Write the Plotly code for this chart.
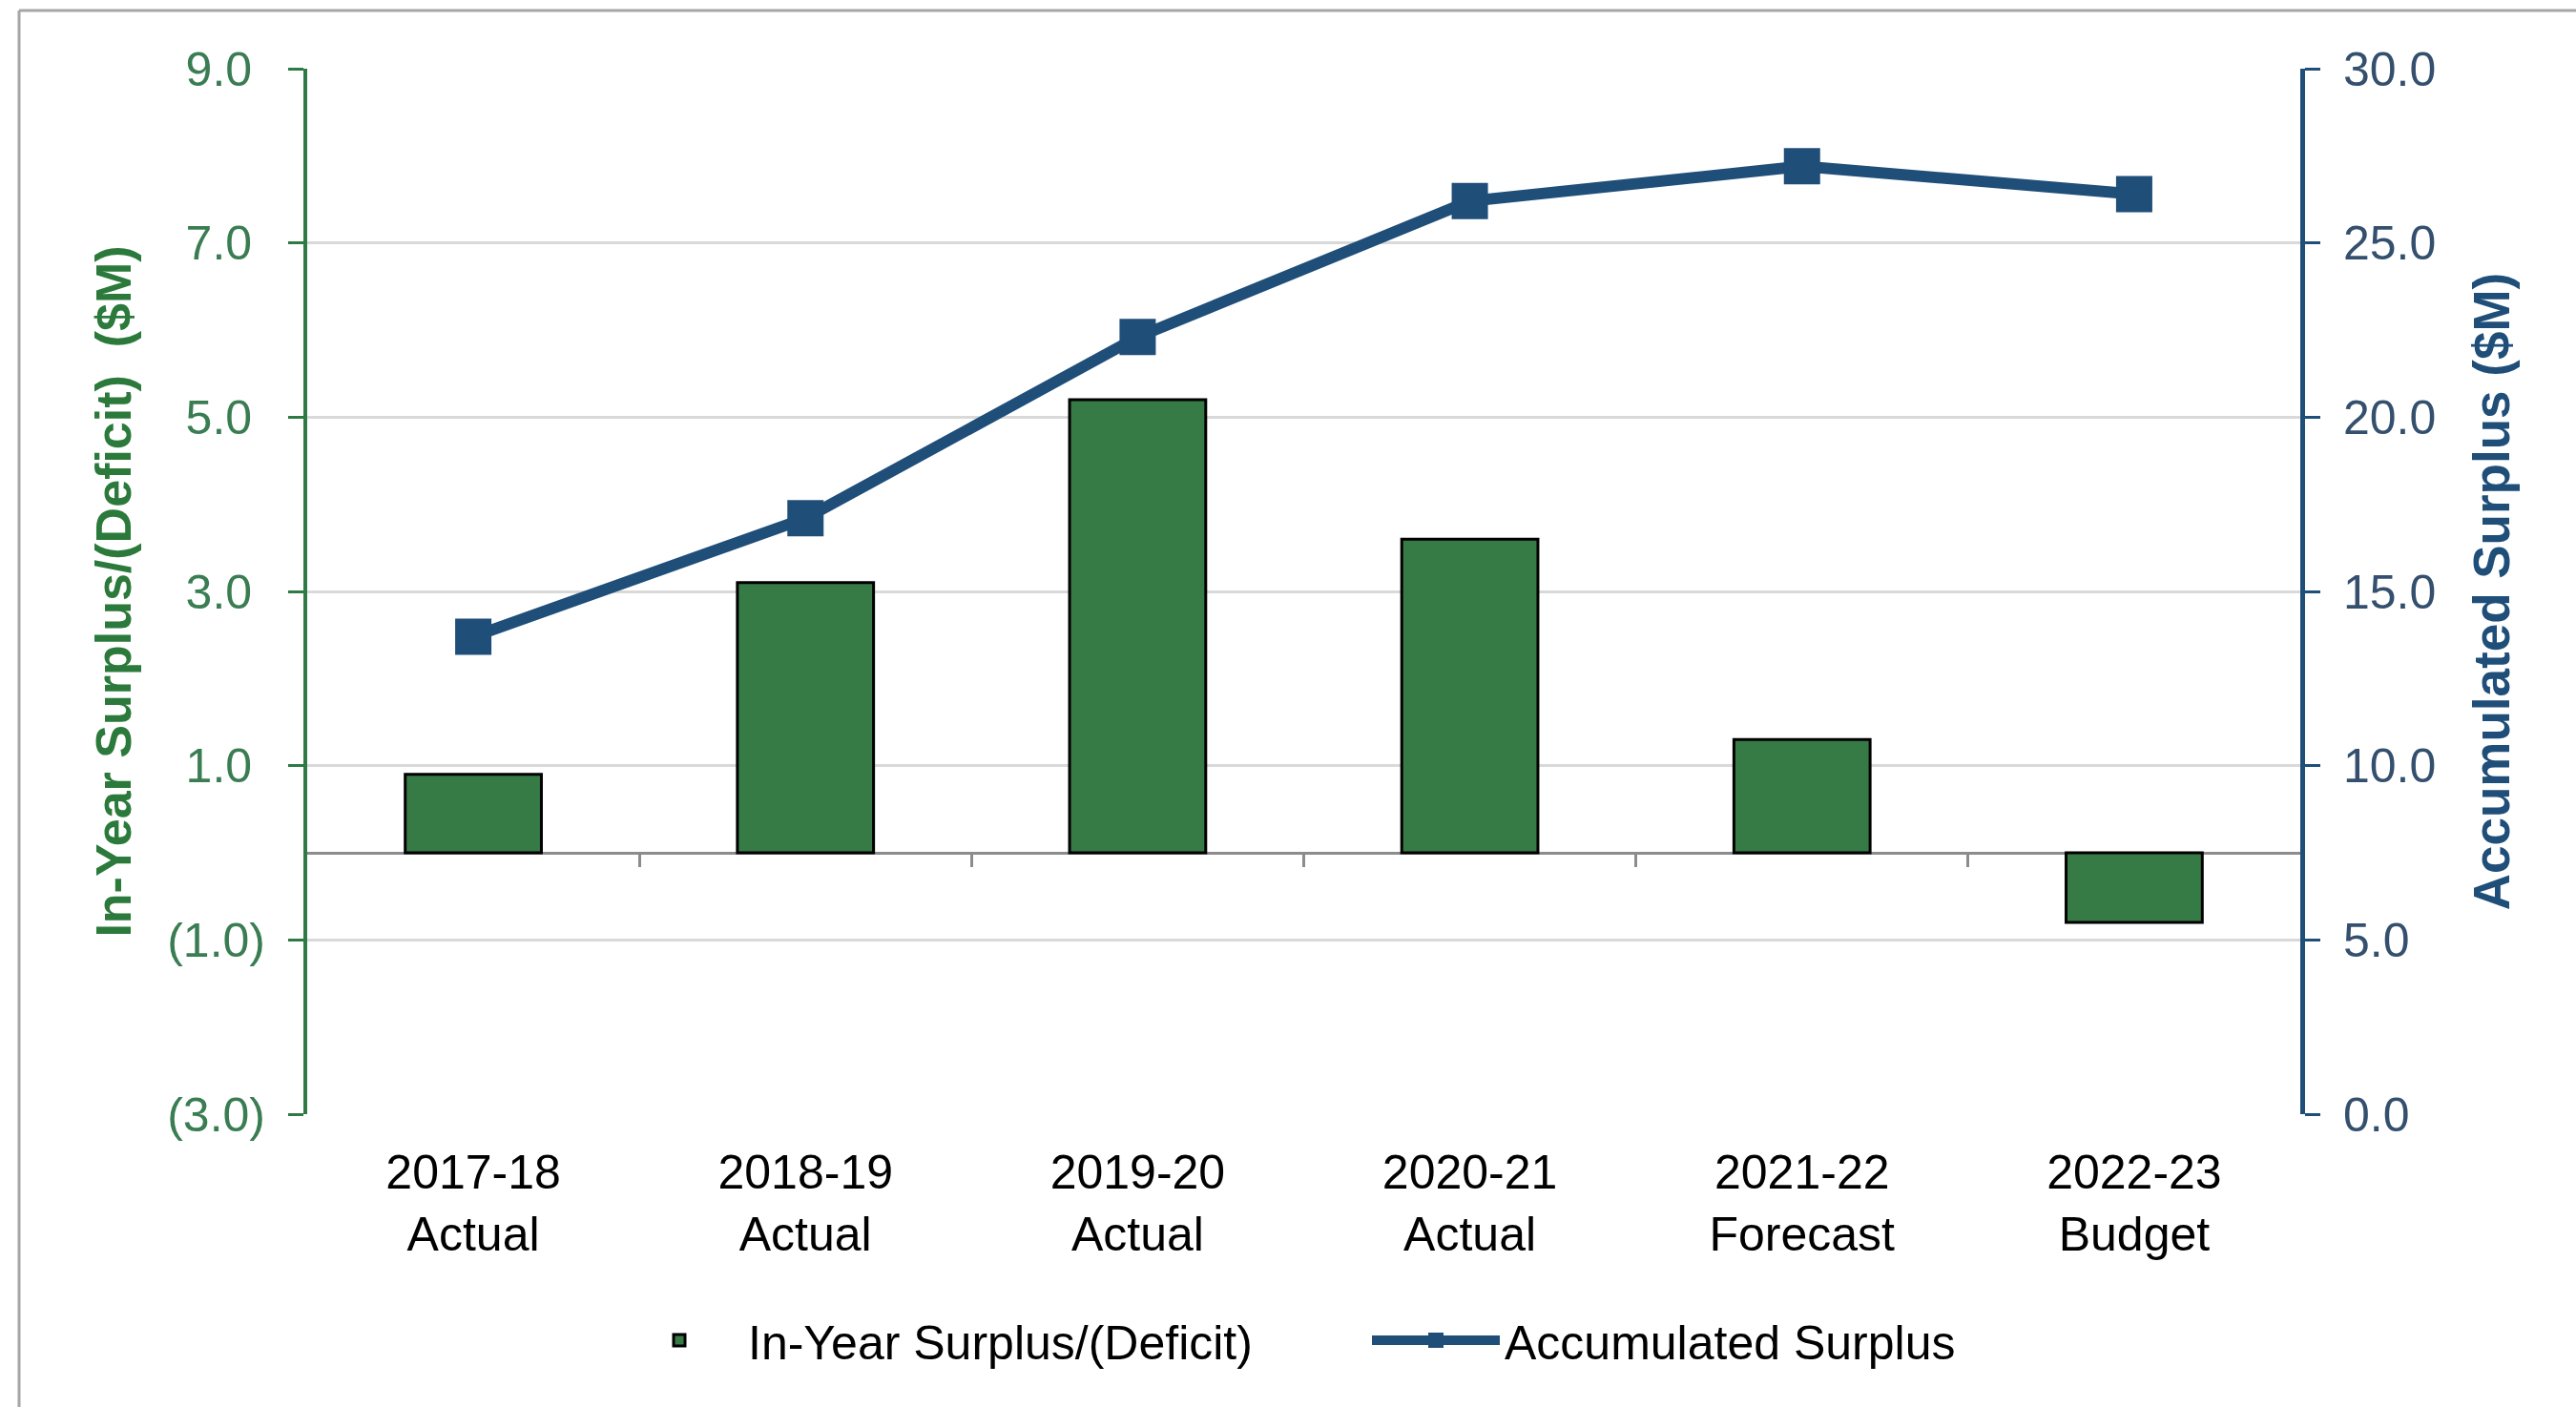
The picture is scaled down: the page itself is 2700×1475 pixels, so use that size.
import plotly.graph_objects as go

# ---- data ----
categories = ["2017-18<br>Actual", "2018-19<br>Actual", "2019-20<br>Actual",
              "2020-21<br>Actual", "2021-22<br>Forecast", "2022-23<br>Budget"]
in_year = [0.9, 3.1, 5.2, 3.6, 1.3, -0.8]
accumulated = [13.7, 17.1, 22.3, 26.2, 27.2, 26.4]
left_ticks = [-3, -1, 1, 3, 5, 7, 9]
right_ticks = [0, 5, 10, 15, 20, 25, 30]

left_text = [f"({abs(v):.1f})" if v < 0 else f"{v:.1f}\u00a0" for v in left_ticks]
right_text = [f"{v:.1f}" for v in right_ticks]

FONT = "Liberation Sans, Arial, sans-serif"
FS = 50
GREEN = "#367B46"
GREEN_AX = "#2E7A45"
GREEN_TXT = "#3A7D52"
BLUE = "#1F4E79"
BLUE_TXT = "#34506E"

fig = go.Figure()
fig.add_trace(go.Bar(
    x=categories, y=in_year, name="In-Year Surplus/(Deficit)",
    marker=dict(color=GREEN, line=dict(color="black", width=3)),
    yaxis="y", xaxis="x",
))
fig.add_trace(go.Scatter(
    x=categories, y=accumulated, name="Accumulated Surplus",
    mode="lines+markers", yaxis="y2", xaxis="x",
    line=dict(color=BLUE, width=12),
    marker=dict(symbol="square", size=38, color=BLUE),
))
# invisible helper trace so the zero-line tick axis is drawn
fig.add_trace(go.Scatter(x=[None], y=[None], xaxis="x2", yaxis="y",
                         showlegend=False, hoverinfo="skip"))

W, H = 2700, 1475
L, R, T, B = 322, 289, 72, 307
pw, ph = W - L - R, H - T - B

def px(x):
    return (x - L) / pw

def py(y):
    return (H - B - y) / ph

fig.update_layout(
    width=W, height=H,
    margin=dict(l=L, r=R, t=T, b=B, autoexpand=False),
    paper_bgcolor="white", plot_bgcolor="white",
    font=dict(family=FONT, size=FS, color="black"),
    bargap=0.59,
    showlegend=True,
    legend=dict(orientation="h", x=px(640), xanchor="left", y=py(1405), yanchor="middle",
                font=dict(size=FS, color="black"), itemwidth=134,
                entrywidth=644, entrywidthmode="pixels",
                bgcolor="rgba(0,0,0,0)"),
    xaxis=dict(
        type="category", range=[-0.5, 5.5], showgrid=False, showline=False,
        zeroline=False, ticks="", tickfont=dict(size=FS, color="black"),
        ticklabelstandoff=27,
    ),
    xaxis2=dict(
        overlaying="x", anchor="free", position=0.25, side="bottom",
        range=[-0.5, 5.5], showgrid=False, showline=False, zeroline=False,
        tickvals=[0.5, 1.5, 2.5, 3.5, 4.5], showticklabels=False,
        ticks="outside", ticklen=14, tickwidth=3, tickcolor="#8c8c8c",
    ),
    yaxis=dict(
        range=[-3, 9], tickvals=left_ticks, ticktext=left_text,
        showgrid=True, gridcolor="#d9d9d9", gridwidth=3,
        zeroline=True, zerolinecolor="#8c8c8c", zerolinewidth=3,
        showline=True, linecolor=GREEN_AX, linewidth=4,
        ticks="outside", ticklen=16, tickwidth=3, tickcolor=GREEN_AX,
        tickfont=dict(size=FS, color=GREEN_TXT), ticklabelstandoff=14,
        title=dict(text="In-Year Surplus/(Deficit)\u00a0\u00a0($M)",
                   font=dict(size=52, color="#2B7A3B", weight="bold"),
                   standoff=22),
    ),
    yaxis2=dict(
        overlaying="y", side="right", range=[0, 30],
        tickvals=right_ticks, ticktext=right_text,
        showgrid=False, zeroline=False,
        showline=True, linecolor=BLUE, linewidth=5,
        ticks="outside", ticklen=16, tickwidth=3, tickcolor=BLUE,
        tickfont=dict(size=FS, color=BLUE_TXT), ticklabelstandoff=14,
        title=dict(text="Accumulated Surplus ($M)",
                   font=dict(size=53, color=BLUE, weight="bold"),
                   standoff=42),
    ),
    shapes=[
        dict(type="line", xref="paper", yref="paper",
             x0=px(20), x1=px(W), y0=py(11), y1=py(11),
             line=dict(color="#a6a6a6", width=3)),
        dict(type="line", xref="paper", yref="paper",
             x0=px(20), x1=px(20), y0=py(11), y1=py(H),
             line=dict(color="#a6a6a6", width=3)),
    ],
)

fig.write_html("out.html")
